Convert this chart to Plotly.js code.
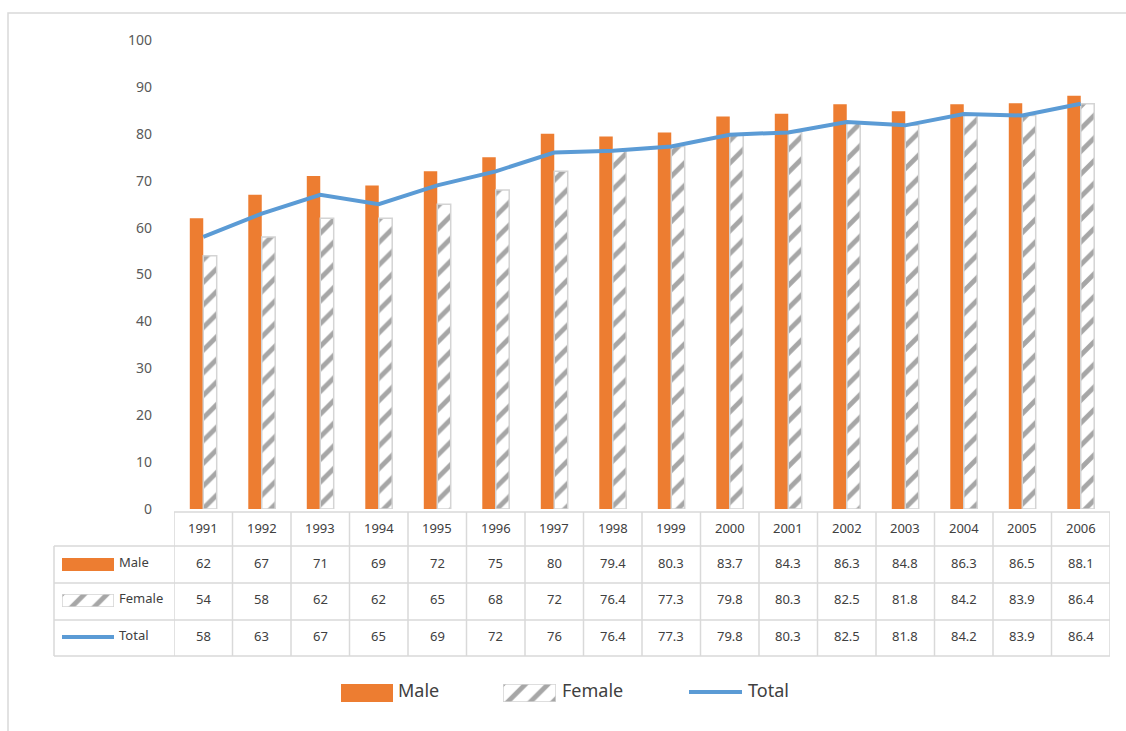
<!DOCTYPE html>
<html>
<head>
<meta charset="utf-8">
<script src="https://cdn.plot.ly/plotly-3.0.1.min.js"></script>
<style>
  html, body { margin: 0; padding: 0; background: #ffffff; }
  #chart { width: 1126px; height: 731px; }
</style>
</head>
<body>
<div id="chart"></div>
<script>
// Literacy / participation rates by sex, 1991-2006
const years = ['1991','1992','1993','1994','1995','1996','1997','1998','1999','2000','2001','2002','2003','2004','2005','2006'];
const male = [62, 67, 71, 69, 72, 75, 80, 79.4, 80.3, 83.7, 84.3, 86.3, 84.8, 86.3, 86.5, 88.1];
const female = [54, 58, 62, 62, 65, 68, 72, 76.4, 77.3, 79.8, 80.3, 82.5, 81.8, 84.2, 83.9, 86.4];
const total = [58, 63, 67, 65, 69, 72, 76, 76.4, 77.3, 79.8, 80.3, 82.5, 81.8, 84.2, 83.9, 86.4];
const seriesNames = ['Male', 'Female', 'Total'];

// figure geometry (pixels) converted to paper fractions
const W = 1126, H = 731;
const px = x => x / W;
const py = y => 1 - y / H;

const ORANGE = '#ed7d31';
const BLUE = '#5b9bd5';
const GRID = '#d9d9d9';
const TEXT = '#404040';
const FONT = 'Noto Sans, Lato, sans-serif';

const femalePattern = { shape: '/', fgcolor: '#a6a6a6', bgcolor: '#ffffff', size: 16, solidity: 0.3 };
const femaleOutline = { color: '#d4d4d4', width: 1.5 };

const traces = [
  {
    type: 'bar', name: seriesNames[0], x: years, y: male,
    marker: { color: ORANGE, line: { width: 0 } }, hoverinfo: 'skip'
  },
  {
    type: 'bar', name: seriesNames[1], x: years, y: female,
    marker: { color: '#ffffff', pattern: femalePattern, line: femaleOutline }, hoverinfo: 'skip'
  },
  {
    type: 'scatter', mode: 'lines', name: seriesNames[2], x: years, y: total,
    line: { color: BLUE, width: 4 }, hoverinfo: 'skip'
  }
];

// small key swatches (each a single full-height bar in its own hidden axis)
const keyBoxes = [
  { x0: 62, x1: 114, y0: 558, y1: 571, female: false },
  { x0: 62, x1: 114, y0: 594, y1: 607, female: true },
  { x0: 341, x1: 393, y0: 684, y1: 702, female: false },
  { x0: 503, x1: 556, y0: 684, y1: 702, female: true }
];

const layout = {
  width: W, height: H,
  margin: { l: 0, r: 0, t: 0, b: 0 },
  paper_bgcolor: '#ffffff', plot_bgcolor: 'rgba(0,0,0,0)',
  showlegend: false,
  barmode: 'group', bargap: 0.54, bargroupgap: 0,
  font: { family: FONT, color: TEXT },
  xaxis: {
    type: 'category', categoryorder: 'array', categoryarray: years,
    domain: [px(174), px(1110)], range: [-0.5, years.length - 0.5],
    showticklabels: false, showgrid: false, zeroline: false, showline: false, ticks: '',
    fixedrange: true
  },
  yaxis: {
    domain: [py(509), py(40)], range: [0, 100], dtick: 10,
    showgrid: false, zeroline: false, showline: false, ticks: '',
    ticklabelstandoff: 21,
    tickfont: { family: FONT, size: 14, color: '#595959' },
    fixedrange: true
  },
  shapes: [],
  annotations: []
};

keyBoxes.forEach((b, i) => {
  const n = i + 2;
  const xa = 'xaxis' + n, ya = 'yaxis' + n;
  layout[xa] = { domain: [px(b.x0), px(b.x1)], range: [-0.5, 0.5], visible: false, anchor: 'y' + n, fixedrange: true };
  layout[ya] = { domain: [py(b.y1), py(b.y0)], range: [0, 1], visible: false, anchor: 'x' + n, fixedrange: true };
  traces.push({
    type: 'bar', x: [0], y: [1], width: [1], xaxis: 'x' + n, yaxis: 'y' + n,
    marker: b.female
      ? { color: '#ffffff', pattern: femalePattern, line: femaleOutline }
      : { color: ORANGE, line: { width: 0 } },
    hoverinfo: 'skip', showlegend: false
  });
});

const shapes = layout.shapes;
const lineStyle = { color: GRID, width: 1.5 };

// outer frame
shapes.push({ type: 'rect', xref: 'paper', yref: 'paper', x0: px(8), x1: px(1140), y0: py(13), y1: py(745), line: { color: '#d9d9d9', width: 1.5 }, layer: 'below' });

// data table grid
const rowLines = [546, 583, 620, 656];
shapes.push({ type: 'line', xref: 'paper', yref: 'paper', x0: px(174), x1: px(1110), y0: py(512), y1: py(512), line: lineStyle });
rowLines.forEach(y => {
  shapes.push({ type: 'line', xref: 'paper', yref: 'paper', x0: px(54), x1: px(1110), y0: py(y), y1: py(y), line: lineStyle });
});
shapes.push({ type: 'line', xref: 'paper', yref: 'paper', x0: px(54), x1: px(54), y0: py(546), y1: py(656), line: lineStyle });
for (let k = 0; k <= years.length; k++) {
  shapes.push({ type: 'line', xref: 'x', yref: 'paper', x0: k - 0.5, x1: k - 0.5, y0: py(512), y1: py(656), line: lineStyle });
}

// Total keys (line swatches)
shapes.push({ type: 'line', xref: 'paper', yref: 'paper', x0: px(62), x1: px(114), y0: py(637), y1: py(637), line: { color: BLUE, width: 4 } });
shapes.push({ type: 'line', xref: 'paper', yref: 'paper', x0: px(689), x1: px(742), y0: py(692), y1: py(692), line: { color: BLUE, width: 4 } });

// table text: one column per year, placed on the category axis by index
const ann = layout.annotations;
const cell = (i, y, text) => ann.push({
  xref: 'x', yref: 'paper', x: i, y: py(y), text: String(text), showarrow: false,
  xanchor: 'center', yanchor: 'middle', font: { family: FONT, size: 13, color: TEXT }
});
const rowY = [528, 563, 599, 636];
years.forEach((yr, i) => {
  cell(i, rowY[0], yr);
  cell(i, rowY[1], male[i]);
  cell(i, rowY[2], female[i]);
  cell(i, rowY[3], total[i]);
});
seriesNames.forEach((name, i) => {
  ann.push({
    xref: 'paper', yref: 'paper', x: px(117), y: py(rowY[i + 1] - 1), text: name, showarrow: false,
    xanchor: 'left', yanchor: 'middle', font: { family: FONT, size: 13, color: TEXT }
  });
});

// bottom legend labels
const legendX = [396, 560, 746];
seriesNames.forEach((name, i) => {
  ann.push({
    xref: 'paper', yref: 'paper', x: px(legendX[i]), y: py(690), text: name, showarrow: false,
    xanchor: 'left', yanchor: 'middle', font: { family: FONT, size: 18, color: TEXT }
  });
});

Plotly.newPlot('chart', traces, layout, { displayModeBar: false, staticPlot: true });
</script>
</body>
</html>
